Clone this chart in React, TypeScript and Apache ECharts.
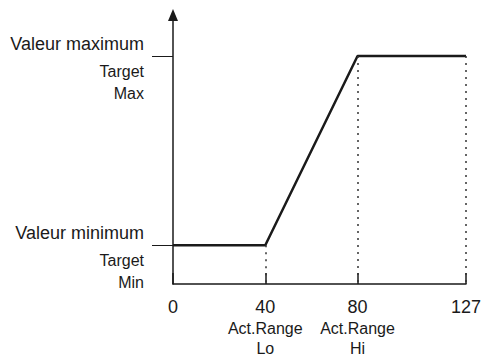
import React, { useEffect, useRef } from "react";
import * as echarts from "echarts";

const xTicks = [0, 40, 80, 127];
const xSubLabels = ["", "Act.Range\nLo", "Act.Range\nHi", ""];
const yLevels = [17, 100];
const yMainLabels = ["Valeur minimum", "Valeur maximum"];
const ySubLabels = ["Target\nMin", "Target\nMax"];
const curveX = [0, 40, 80, 127];
const curveY = [17, 17, 100, 100];
const xMax = 127;
const yMax = 118;

const FONT = "'Liberation Sans', Arial, Helvetica, sans-serif";
const INK = "#1a1a1a";

export default function App() {
  const ref = useRef<HTMLDivElement>(null);
  useEffect(() => {
    if (!ref.current) return;
    const chart = echarts.init(ref.current, undefined, { renderer: "svg" });
    const dropLines = curveX
      .map((x, i) => ({ x, y: curveY[i] }))
      .filter((p) => p.x > 0)
      .map((p) => [{ coord: [p.x, p.y] }, { coord: [p.x, 0] }]);
    chart.setOption({
      animation: false,
      grid: { left: 173, right: 15, top: 15, bottom: 70 },
      xAxis: {
        type: "value",
        min: 0,
        max: xMax,
        splitLine: { show: false },
        axisLine: { lineStyle: { color: INK, width: 1.5 } },
        axisTick: {
          show: true,
          inside: true,
          length: 11,
          customValues: xTicks,
          lineStyle: { color: INK, width: 1.5 },
        },
        axisLabel: {
          customValues: xTicks,
          margin: 12,
          color: INK,
          fontFamily: FONT,
          formatter: (v: number) => {
            const i = xTicks.indexOf(v);
            const sub = i >= 0 ? xSubLabels[i] : "";
            const parts = [`{n|${v}}`];
            if (sub) sub.split("\n").forEach((s) => parts.push(`{s|${s}}`));
            return parts.join("\n");
          },
          rich: {
            n: { fontSize: 18, lineHeight: 22, fontFamily: FONT, color: INK },
            s: { fontSize: 16, lineHeight: 20, fontFamily: FONT, color: INK },
          },
        },
      },
      yAxis: [
        {
          type: "value",
          min: 0,
          max: yMax,
          position: "left",
          splitLine: { show: false },
          axisLine: {
            show: true,
            symbol: ["none", "triangle"],
            symbolSize: [10, 12],
            lineStyle: { color: INK, width: 1.5 },
          },
          axisTick: {
            show: true,
            length: 21,
            customValues: yLevels,
            lineStyle: { color: INK, width: 1 },
          },
          axisLabel: {
            customValues: yLevels,
            margin: 29,
            color: INK,
            fontFamily: FONT,
            fontSize: 18,
            lineHeight: 20,
            verticalAlign: "bottom",
            padding: [0, 0, 2, 0],
            formatter: (v: number) => {
              const i = yLevels.indexOf(v);
              return i >= 0 ? yMainLabels[i] : "";
            },
          },
        },
        {
          type: "value",
          min: 0,
          max: yMax,
          position: "left",
          splitLine: { show: false },
          axisLine: { show: false },
          axisTick: { show: false },
          axisLabel: {
            customValues: yLevels,
            margin: 29,
            color: INK,
            fontFamily: FONT,
            fontSize: 16,
            lineHeight: 22,
            verticalAlign: "top",
            align: "right",
            padding: [4, 0, 0, 0],
            formatter: (v: number) => {
              const i = yLevels.indexOf(v);
              return i >= 0 ? ySubLabels[i] : "";
            },
          },
        },
      ],
      series: [
        {
          type: "line",
          yAxisIndex: 0,
          data: curveX.map((x, i) => [x, curveY[i]]),
          symbol: "none",
          lineStyle: { color: INK, width: 2.5 },
          silent: true,
          markLine: {
            silent: true,
            symbol: ["none", "none"],
            label: { show: false },
            lineStyle: { color: "#333", width: 1.5, type: [2, 5] },
            data: dropLines,
          },
        },
      ],
    });
    return () => chart.dispose();
  }, []);
  return (
    <div
      ref={ref}
      style={{ position: "fixed", left: 0, top: 0, width: 484, height: 356, background: "#fff" }}
    />
  );
}
